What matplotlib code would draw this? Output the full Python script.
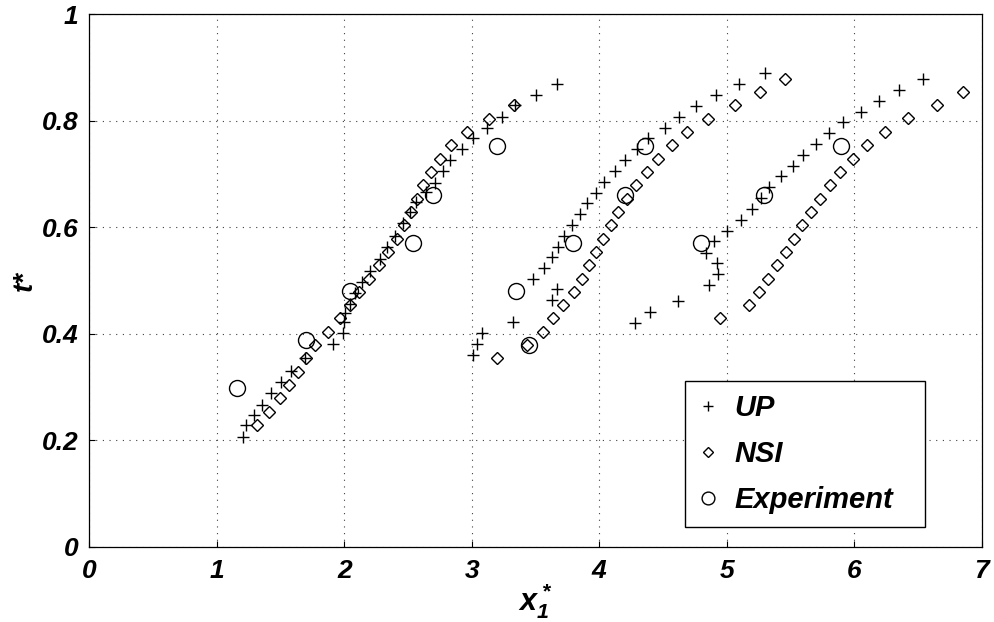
import matplotlib
matplotlib.use("Agg")
import matplotlib.pyplot as plt

plt.rcParams['font.family'] = ['Liberation Sans', 'DejaVu Sans']
plt.rcParams['mathtext.fontset'] = 'custom'
plt.rcParams['mathtext.rm'] = 'Liberation Sans:bold:italic'
plt.rcParams['mathtext.it'] = 'Liberation Sans:bold:italic'
plt.rcParams['mathtext.bf'] = 'Liberation Sans:bold:italic'

# UP (plus markers)
up_x = [1.203, 1.227, 1.292, 1.357, 1.423, 1.50, 1.58, 1.69, 1.914, 1.987, 2.0, 2.006,
        2.045, 2.084, 2.136, 2.202, 2.28, 2.337, 2.398, 2.464, 2.515, 2.562, 2.641,
        2.711, 2.777, 2.83, 2.921, 3.012, 3.122, 3.234, 3.339, 3.501, 3.671,
        3.012, 3.038, 3.078, 3.326, 3.627, 3.671, 3.478, 3.566, 3.627, 3.678, 3.725,
        3.783, 3.849, 3.906, 3.974, 4.039, 4.123, 4.202, 4.293, 4.385, 4.515, 4.627,
        4.76, 4.915, 5.096, 5.30,
        4.28, 4.398, 4.615, 4.86, 4.933, 4.921, 4.837, 4.902, 5.004, 5.109, 5.195,
        5.268, 5.333, 5.423, 5.517, 5.60, 5.70, 5.804, 5.909, 6.053, 6.196, 6.35, 6.536]
up_y = [0.207, 0.229, 0.248, 0.267, 0.289, 0.31, 0.33, 0.355, 0.382, 0.402, 0.423, 0.439,
        0.457, 0.476, 0.498, 0.519, 0.540, 0.564, 0.584, 0.608, 0.629, 0.648, 0.666,
        0.684, 0.706, 0.726, 0.747, 0.767, 0.786, 0.807, 0.830, 0.849, 0.869,
        0.360, 0.381, 0.401, 0.422, 0.464, 0.484, 0.504, 0.523, 0.544, 0.564, 0.584,
        0.604, 0.625, 0.645, 0.665, 0.686, 0.706, 0.726, 0.747, 0.767, 0.787, 0.808,
        0.828, 0.849, 0.869, 0.889,
        0.421, 0.442, 0.462, 0.492, 0.512, 0.534, 0.552, 0.574, 0.594, 0.614, 0.634,
        0.656, 0.676, 0.696, 0.715, 0.736, 0.757, 0.778, 0.797, 0.817, 0.838, 0.858, 0.878]

# NSI (diamond markers)
nsi_x = [1.313, 1.41, 1.496, 1.566, 1.64, 1.70, 1.771, 1.875, 1.966, 2.045, 2.118, 2.196,
         2.272, 2.345, 2.411, 2.468, 2.521, 2.568, 2.62, 2.678, 2.751, 2.837, 2.96, 3.137, 3.333,
         3.2, 3.431, 3.556, 3.64, 3.718, 3.802, 3.867, 3.919, 3.974, 4.032, 4.089, 4.149,
         4.215, 4.288, 4.372, 4.458, 4.568, 4.69, 4.855, 5.064, 5.26, 5.456,
         4.947, 5.176, 5.255, 5.321, 5.391, 5.464, 5.527, 5.592, 5.66, 5.731, 5.809,
         5.888, 5.987, 6.097, 6.241, 6.424, 6.646, 6.855]
nsi_y = [0.229, 0.254, 0.279, 0.304, 0.329, 0.354, 0.379, 0.404, 0.429, 0.454, 0.479, 0.504,
         0.529, 0.554, 0.579, 0.604, 0.629, 0.654, 0.679, 0.704, 0.729, 0.754, 0.779, 0.804, 0.829,
         0.354, 0.379, 0.404, 0.429, 0.454, 0.479, 0.504, 0.529, 0.554, 0.579, 0.604, 0.629,
         0.654, 0.679, 0.704, 0.729, 0.754, 0.779, 0.804, 0.829, 0.854, 0.879,
         0.430, 0.454, 0.479, 0.504, 0.529, 0.554, 0.579, 0.604, 0.629, 0.654, 0.679,
         0.704, 0.729, 0.754, 0.779, 0.805, 0.829, 0.855]

# Experiment (circle markers)
exp_x = [1.156, 1.70, 2.045, 2.536, 2.698, 3.195, 3.347, 3.451, 3.796, 4.202, 4.358,
         4.795, 5.294, 5.893]
exp_y = [0.298, 0.389, 0.481, 0.570, 0.661, 0.753, 0.481, 0.379, 0.570, 0.661, 0.753,
         0.570, 0.661, 0.753]

series_labels = ['UP', 'NSI', 'Experiment']
x_ticks = [0, 1, 2, 3, 4, 5, 6, 7]
y_ticks = [0, 0.2, 0.4, 0.6, 0.8, 1]
y_ticklabels = ['0', '0.2', '0.4', '0.6', '0.8', '1']

fig = plt.figure(figsize=(9.95, 6.22), dpi=100)
ax = fig.add_axes([89.3 / 995, 75 / 622, 892.4 / 995, 532.7 / 622])

ax.plot(up_x, up_y, linestyle='none', marker='+', markersize=9, markeredgewidth=1.0,
        color='black', label=series_labels[0])
ax.plot(nsi_x, nsi_y, linestyle='none', marker='D', markersize=6, markeredgewidth=1.0,
        markerfacecolor='none', markeredgecolor='black', label=series_labels[1])
ax.plot(exp_x, exp_y, linestyle='none', marker='o', markersize=11.5, markeredgewidth=1.0,
        markerfacecolor='none', markeredgecolor='black', label=series_labels[2])

ax.set_xlim(0, 7)
ax.set_ylim(0, 1)
ax.set_xticks(x_ticks)
ax.set_yticks(y_ticks)
ax.set_xticklabels([str(v) for v in x_ticks])
ax.set_yticklabels(y_ticklabels)

for lab in ax.get_xticklabels() + ax.get_yticklabels():
    lab.set_fontsize(19)
    lab.set_fontweight('bold')
    lab.set_fontstyle('italic')

ax.tick_params(axis='y', direction='in', length=4, width=0.8, pad=8)
ax.tick_params(axis='x', direction='in', length=4, width=0.8, pad=9)
ax.grid(True, color='0.25', linestyle=(0, (1, 5)), linewidth=0.8)
for s in ax.spines.values():
    s.set_linewidth(0.9)

ax.set_xlabel(r'$x^*_1$', fontsize=22, labelpad=-2)
ax.set_ylabel('t*', fontsize=20, fontweight='bold', fontstyle='italic', labelpad=3)

leg = ax.legend(loc='lower left', bbox_to_anchor=(0.6675, 0.0375, 0.269, 0.276),
                mode='expand', borderaxespad=0, fancybox=False, framealpha=1,
                edgecolor='black', prop=dict(family='Liberation Sans', size=21,
                                             weight='bold', style='italic'),
                markerscale=0.8, handlelength=0.65, handletextpad=0.6,
                labelspacing=0.62, borderpad=0.45)
leg.get_frame().set_linewidth(1.0)

fig.savefig('out.png', dpi=100)
